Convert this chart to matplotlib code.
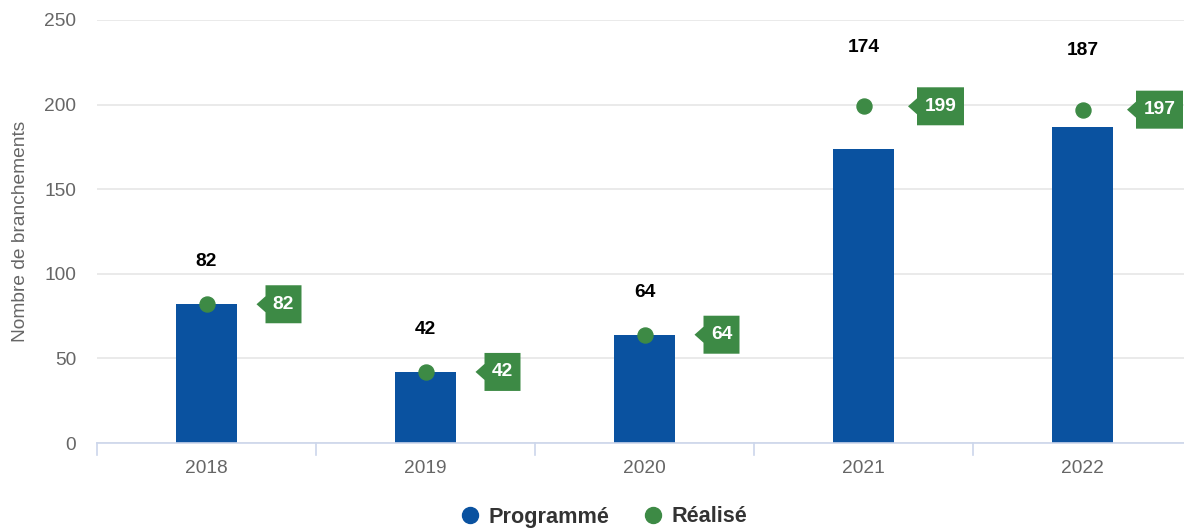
import matplotlib
matplotlib.use("Agg")
import matplotlib.pyplot as plt
from matplotlib.lines import Line2D
from matplotlib.patches import Polygon
import matplotlib.transforms as mtransforms

plt.rcParams['font.family'] = ['Liberation Sans', 'DejaVu Sans']

years = ["2018", "2019", "2020", "2021", "2022"]
programme = [82, 42, 64, 174, 187]
realise = [82, 42, 64, 199, 197]
yticks = [0, 50, 100, 150, 200, 250]

BLUE = "#0a52a0"
GREEN = "#3d8a45"
GRID = "#e6e6e6"
AXIS = "#ccd6eb"
TXT = "#666666"

W, H = 1184, 529
fig = plt.figure(figsize=(W / 100, H / 100), dpi=100)
ax = fig.add_axes([97 / W, 1 - 443 / H, (1192 - 97) / W, (443 - 20) / H])

x = list(range(len(years)))
ax.bar(x, programme, width=0.28, color=BLUE, zorder=2)
ax.plot(x, realise, linestyle="none", marker="o", markersize=10.8,
        color=GREEN, zorder=3)

ax.set_xlim(-0.5, len(years) - 0.5)
ax.set_ylim(0, 250)
ax.set_yticks(yticks)
ax.set_xticks(x)
ax.set_xticklabels(years)
ax.yaxis.grid(True, color=GRID, linewidth=1.2, zorder=0)
ax.set_axisbelow(True)
for s in ["top", "right", "left"]:
    ax.spines[s].set_visible(False)
ax.spines["bottom"].set_color(AXIS)
ax.spines["bottom"].set_linewidth(1.2)
ax.tick_params(axis="y", length=0, labelsize=13.8, labelcolor=TXT, pad=15)
ax.tick_params(axis="x", length=0, labelsize=13.8, labelcolor=TXT, pad=12)
# category boundary ticks
for b in [i - 0.5 for i in range(len(years) + 1)]:
    ax.plot([b, b], [0, -0.028], transform=ax.get_xaxis_transform(),
            color=AXIS, linewidth=1.2, clip_on=False)

ax.set_ylabel("Nombre de branchements", fontsize=13.8, color=TXT)
ax.yaxis.set_label_coords(-(97 - 29) / (1192 - 97), 0.5)

dpi = fig.dpi
for i, (p, r) in enumerate(zip(programme, realise)):
    ly = r + 35 if r > p + 5 else p + 25
    ax.text(i, ly, str(p), ha="center", va="center", fontsize=13.8,
            fontweight="bold", color="black", zorder=4)
    # green callout box
    txt = str(r)
    wpx = 11 * len(txt) + 14
    hpx = 38
    cx = 77
    left = cx - wpx / 2
    right = cx + wpx / 2
    verts_px = [(left - 9, 0), (left, 8), (left, hpx / 2), (right, hpx / 2),
                (right, -hpx / 2), (left, -hpx / 2), (left, -8)]
    verts_in = [(vx / dpi, vy / dpi) for vx, vy in verts_px]
    trans = fig.dpi_scale_trans + mtransforms.ScaledTranslation(i, r, ax.transData)
    poly = Polygon(verts_in, closed=True, facecolor=GREEN, edgecolor="none",
                   transform=trans, zorder=4, clip_on=False)
    ax.add_patch(poly)
    ax.annotate(txt, xy=(i, r), xytext=(cx, 0), textcoords="offset pixels",
                ha="center", va="center", fontsize=13.8, fontweight="bold",
                color="white", zorder=5, annotation_clip=False)

handles = [Line2D([], [], linestyle="none", marker="o", markersize=11.5, color=BLUE),
           Line2D([], [], linestyle="none", marker="o", markersize=11.5, color=GREEN)]
leg = fig.legend(handles, ["Programmé", "Réalisé"], loc="center",
                 bbox_to_anchor=(603 / W, 1 - 517 / H), ncol=2, frameon=False,
                 prop={"weight": "bold", "size": 15.6}, handletextpad=0.35,
                 columnspacing=1.5, handlelength=1.0)
for t in leg.get_texts():
    t.set_color("#333333")

fig.savefig("out.png", dpi=100)
